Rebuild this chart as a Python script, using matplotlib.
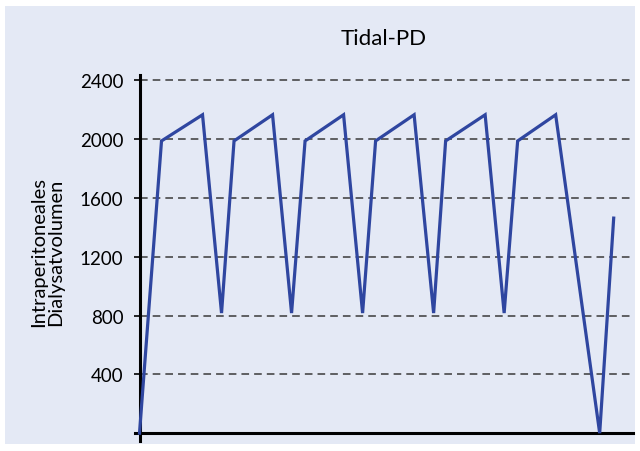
import matplotlib.pyplot as plt
from matplotlib.patches import Rectangle

# time axis (arbitrary units) and intraperitoneal volume (ml)
t = [0, 2.2, 6.3, 8.2, 9.45, 13.3, 15.2, 16.55, 20.4, 22.3, 23.6, 27.45,
     29.4, 30.6, 34.55, 36.45, 37.8, 41.6, 46.0, 47.4]
vol = [0, 1988, 2166, 817, 1988, 2166, 817, 1988, 2166, 817, 1988, 2166,
       817, 1988, 2166, 817, 1988, 2166, 0, 1463]
yticks = [0, 400, 800, 1200, 1600, 2000, 2400]
yticklabels = ['', '400', '800', '1200', '1600', '2000', '2400']

plt.rcParams['font.family'] = ['Lato', 'DejaVu Sans']

fig = plt.figure(figsize=(6.4, 4.52), dpi=100)
fig.patch.set_facecolor('white')
# light panel behind the chart
fig.patches.append(Rectangle((5/640, 7/452), 630/640, 438/452,
                             transform=fig.transFigure, facecolor='#e4e9f5',
                             edgecolor='none', zorder=-1))

ax = fig.add_axes([134.5/640, 10.5/452, 498.2/640, 366/452])
ax.set_zorder(2)
ax.set_facecolor('none')

ax.plot(t, vol, color='#2f46a0', lw=2.3, solid_joinstyle='miter', zorder=3, clip_on=False)

xmax = 49.3
ax.set_xlim(-0.5, xmax)
ax.set_ylim(-50, 2440)
ax.set_yticks(yticks)
ax.set_yticklabels(yticklabels)
ax.set_xticks([])
ax.hlines(yticks[1:], 0, xmax, color='#3a3a3a', lw=1.1, ls=(0, (5, 3.3)), zorder=1)

ax.spines['top'].set_visible(False)
ax.spines['right'].set_visible(False)
ax.spines['left'].set_position(('data', 0))
ax.spines['bottom'].set_position(('data', 0))
ax.spines['left'].set_linewidth(2.2)
ax.spines['bottom'].set_linewidth(2.2)
ax.tick_params(axis='y', direction='out', length=4, width=1.2, pad=7.5, labelsize=13.5)

ax.set_title('Tidal-PD', fontsize=16, pad=22)
ax.set_ylabel('Intraperitoneales\nDialysatvolumen', fontsize=14.5, linespacing=1.0)
ax.yaxis.set_label_coords(-0.142, 0.518)

fig.savefig('out.png', dpi=100)
